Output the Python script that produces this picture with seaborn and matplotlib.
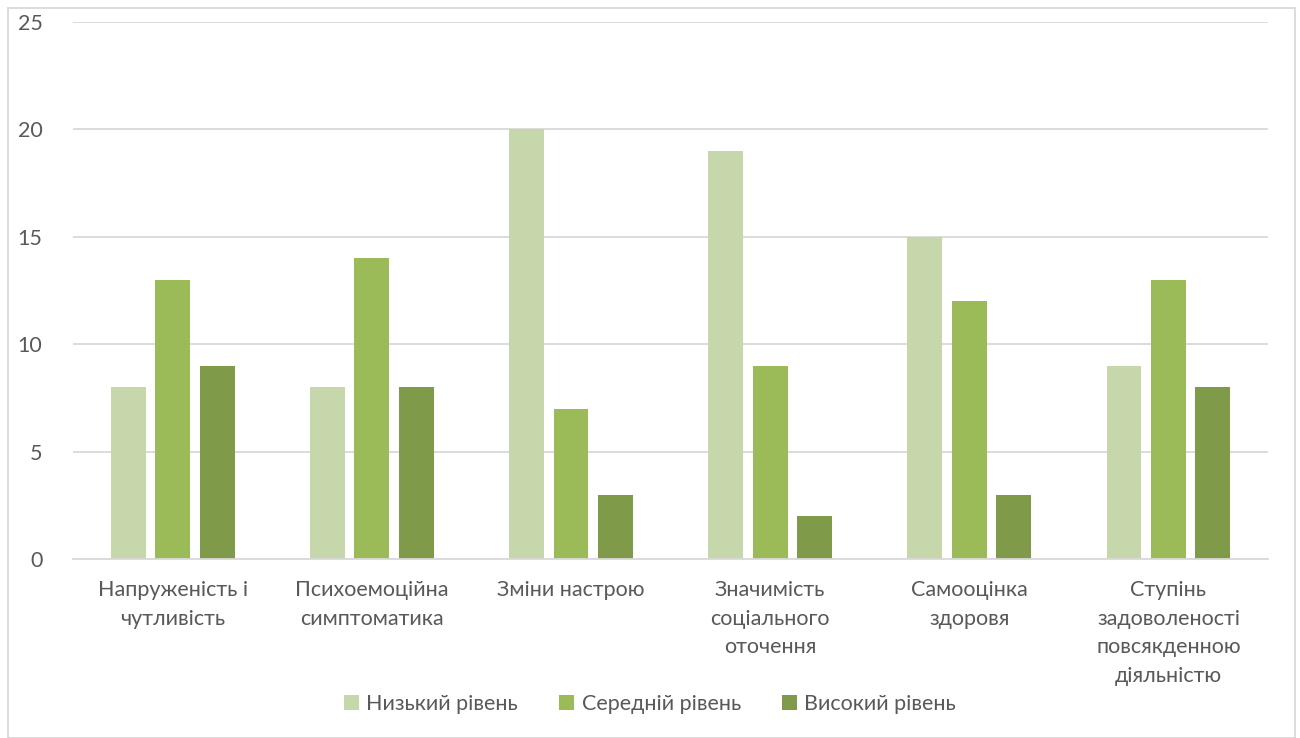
import matplotlib
matplotlib.use("Agg")
import matplotlib.pyplot as plt
from matplotlib.patches import Rectangle
import seaborn as sns
import pandas as pd

categories = [
    "Напруженість і\nчутливість",
    "Психоемоційна\nсимптоматика",
    "Зміни настрою",
    "Значимість\nсоціального\nоточення",
    "Самооцінка\nздоровя",
    "Ступінь\nзадоволеності\nповсякденною\nдіяльністю",
]
levels = ["Низький рівень", "Середній рівень", "Високий рівень"]
low = [8, 8, 20, 19, 15, 9]
mid = [13, 14, 7, 9, 12, 13]
high = [9, 8, 3, 2, 3, 8]
colors = ["#C6D7AC", "#9BBB59", "#7F9A48"]

rows = []
for lvl, vals in zip(levels, [low, mid, high]):
    for cat, v in zip(categories, vals):
        rows.append({"cat": cat, "level": lvl, "value": v})
df = pd.DataFrame(rows)

sns.set_theme(style="white")
plt.rcParams["font.family"] = ["Lato", "DejaVu Sans"]
text_color = "#595959"

fig = plt.figure(figsize=(13, 7.38), dpi=100)
ax = fig.add_axes([0.0562, 0.2425, 0.9192, 0.7277])

sns.barplot(data=df, x="cat", y="value", hue="level", hue_order=levels,
            order=categories, palette=colors, width=0.67, gap=0.215,
            saturation=1, linewidth=0, ax=ax, legend=True)

ax.set_ylim(0, 25)
ax.set_yticks([0, 5, 10, 15, 20, 25])
ax.set_xlim(-0.5, len(categories) - 0.5)
ax.yaxis.grid(True, color="#D9D9D9", linewidth=1.3)
ax.set_axisbelow(True)
for s in ["left", "right", "top"]:
    ax.spines[s].set_visible(False)
ax.spines["bottom"].set_color("#D9D9D9")
ax.spines["bottom"].set_linewidth(1.3)
ax.set_xlabel("")
ax.set_ylabel("")
ax.tick_params(axis="both", length=0, labelsize=15.5, colors=text_color)
ax.tick_params(axis="y", pad=22)
ax.tick_params(axis="x", pad=15)
for lbl in ax.get_xticklabels():
    lbl.set_linespacing(1.55)
    lbl.set_verticalalignment("top")

leg = ax.legend(loc="center", bbox_to_anchor=(0.5, 1 - 704 / 738), bbox_transform=fig.transFigure,
                ncol=3, frameon=False, fontsize=15.5, handlelength=0.7, handleheight=0.7,
                handletextpad=0.35, columnspacing=1.9)
for t in leg.get_texts():
    t.set_color(text_color)

fig.patches.append(Rectangle((8 / 1300, 0), 1287 / 1300, 730 / 738, transform=fig.transFigure,
                             fill=False, edgecolor="#D9D9D9", linewidth=1.3))

fig.savefig("out.png", dpi=100, facecolor="white")
